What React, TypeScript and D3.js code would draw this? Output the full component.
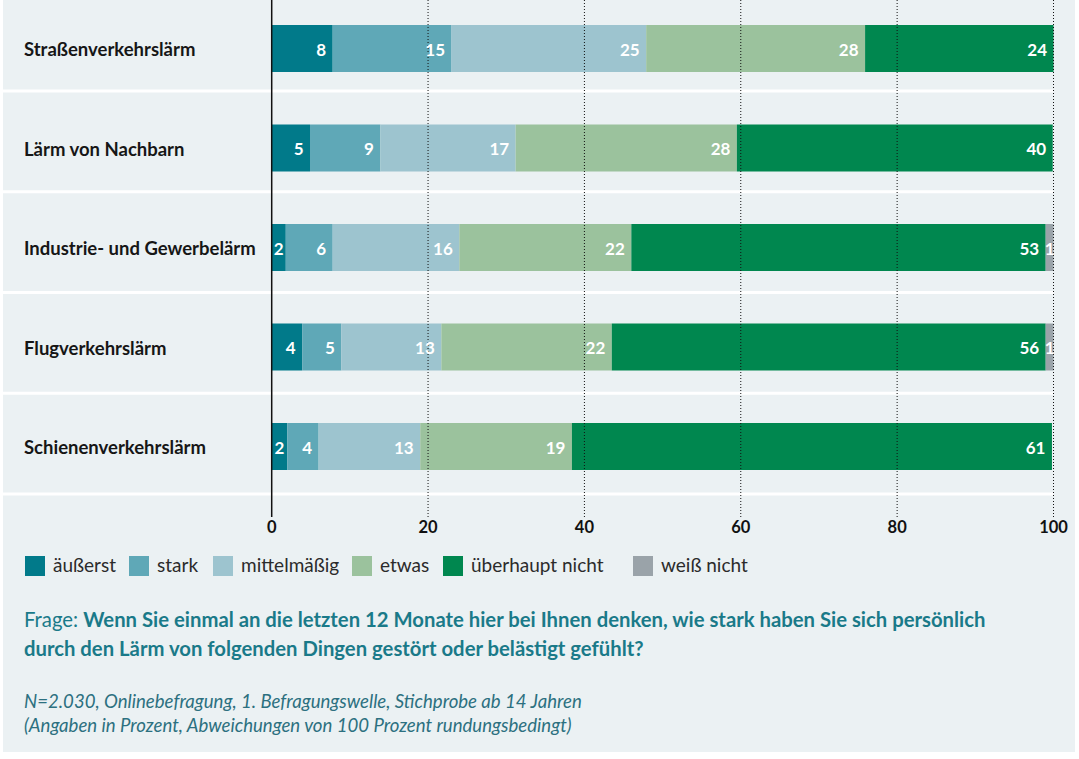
import React from "react";
import * as d3 from "d3";

// ---------- data ----------
const categories = [
  "Straßenverkehrslärm",
  "Lärm von Nachbarn",
  "Industrie- und Gewerbelärm",
  "Flugverkehrslärm",
  "Schienenverkehrslärm",
];
const seriesNames = ["äußerst", "stark", "mittelmäßig", "etwas", "überhaupt nicht", "weiß nicht"];
const aeusserst = [7.8, 4.9, 1.8, 3.9, 2.0];
const stark = [15.2, 9.0, 6.0, 5.0, 4.0];
const mittelmaessig = [24.9, 17.3, 16.2, 12.8, 13.0];
const etwas = [28.0, 28.3, 22.0, 21.8, 19.4];
const ueberhauptNicht = [24.1, 40.4, 53.0, 55.5, 61.4];
const weissNicht = [0, 0, 1.0, 1.0, 0];
const seriesValues = [aeusserst, stark, mittelmaessig, etwas, ueberhauptNicht, weissNicht];
const seriesColors = ["#017a8a", "#5fa8b7", "#9dc4cf", "#9bc29d", "#00874f", "#9aa3a9"];
const xTicks = [0, 20, 40, 60, 80, 100];

const questionLead = "Frage: ";
const questionLine1 = "Wenn Sie einmal an die letzten 12 Monate hier bei Ihnen denken, wie stark haben Sie sich persönlich";
const questionLine2 = "durch den Lärm von folgenden Dingen gestört oder belästigt gefühlt?";
const noteLine1 = "N=2.030, Onlinebefragung, 1. Befragungswelle, Stichprobe ab 14 Jahren";
const noteLine2 = "(Angaben in Prozent, Abweichungen von 100 Prozent rundungsbedingt)";

// ---------- layout ----------
const W = 1079;
const H = 759;
const FONT = "Lato, 'Open Sans', sans-serif";
const BG = "#ebf1f3";
const legendX = [25, 129, 213, 352, 443, 633];

let ctx: CanvasRenderingContext2D | null = null;
function textWidth(t: string, font: string) {
  if (typeof document === "undefined") return t.length * 9;
  if (!ctx) ctx = document.createElement("canvas").getContext("2d");
  if (!ctx) return t.length * 9;
  ctx.font = font;
  return ctx.measureText(t).width;
}

export default function App() {
  const x = d3.scaleLinear().domain([0, 100]).range([271.7, 1053.5]);
  const yBar = d3.scaleBand<string>().domain(categories).range([-9.5, 488]).paddingInner(0);
  const yRow = d3.scaleBand<string>().domain(categories).range([-9.75, 494]).paddingInner(0);
  const barOffset = 34.5;
  const barH = 47;

  const stacked = d3
    .stack<number>()
    .keys(seriesNames.map((_, i) => String(i)))
    .value((d, key) => seriesValues[+key][d])(categories.map((_, i) => i));

  const labelFont = `bold 17px Lato`;

  return (
    <svg
      width={W}
      height={H}
      style={{ position: "absolute", left: 0, top: 0, background: "#ffffff" }}
      fontFamily={FONT}
    >
      <rect x={3} y={0} width={1072} height={752} fill={BG} />
      {/* row separators */}
      {categories.map((c) => (
        <rect key={"sep" + c} x={3} y={(yRow(c) as number) + yRow.bandwidth() - 1.5} width={x(100) - 3} height={3} fill="#ffffff" />
      ))}
      {/* category labels */}
      {categories.map((c) => (
        <text
          key={"lab" + c}
          x={24}
          y={(yBar(c) as number) + barOffset + barH / 2 + 7.5}
          fontSize={18.5}
          fontWeight={700}
          fill="#161616"
        >
          {c}
        </text>
      ))}
      {/* bars */}
      {stacked.map((layer, si) => (
        <g key={"layer" + si}>
          {layer.map((seg, ci) => {
            const w = x(seg[1]) - x(seg[0]);
            if (w <= 0) return null;
            return (
              <rect
                key={ci}
                x={x(seg[0])}
                y={(yBar(categories[ci]) as number) + barOffset}
                width={w}
                height={barH}
                fill={seriesColors[si]}
              />
            );
          })}
        </g>
      ))}
      {/* grid lines */}
      {xTicks.slice(1).map((t) => (
        <line key={"g" + t} x1={x(t)} x2={x(t)} y1={0} y2={517} stroke="#111" strokeWidth={1} strokeDasharray="1,2" />
      ))}
      <line x1={x(0)} x2={x(0)} y1={0} y2={517} stroke="#111" strokeWidth={1.5} />
      {/* value labels */}
      {stacked.map((layer, si) => (
        <g key={"vl" + si}>
          {layer.map((seg, ci) => {
            const v = seriesValues[si][ci];
            if (v <= 0) return null;
            const label = String(Math.round(v));
            const segW = x(seg[1]) - x(seg[0]);
            const tw = textWidth(label, labelFont);
            const pad = Math.min(6.5, (segW - tw) / 2);
            return (
              <text
                key={ci}
                x={x(seg[1]) - pad}
                y={(yBar(categories[ci]) as number) + barOffset + barH / 2 + 7}
                textAnchor="end"
                fontSize={17}
                fontWeight={700}
                fill="#ffffff"
              >
                {label}
              </text>
            );
          })}
        </g>
      ))}
      {/* tick labels */}
      {xTicks.map((t) => (
        <text key={"t" + t} x={x(t)} y={533} textAnchor="middle" fontSize={16.5} fontWeight={700} fill="#111">
          {t}
        </text>
      ))}
      {/* legend */}
      {seriesNames.map((name, i) => (
        <g key={"leg" + name}>
          <rect x={legendX[i]} y={556} width={20} height={20} fill={seriesColors[i]} />
          <text x={legendX[i] + 28} y={572} fontSize={19} fill="#2b2b2b">
            {name}
          </text>
        </g>
      ))}
      {/* question */}
      <text x={24} y={627} fontSize={20.3} fill="#1a7a89">
        <tspan fontWeight={400}>{questionLead}</tspan>
        <tspan fontWeight={700}>{questionLine1}</tspan>
      </text>
      <text x={24} y={656} fontSize={20.3} fontWeight={700} fill="#1a7a89">
        {questionLine2}
      </text>
      {/* note */}
      <text x={24} y={708} fontSize={18.6} fontStyle="italic" fill="#2c7080">
        {noteLine1}
      </text>
      <text x={24} y={732} fontSize={18.6} fontStyle="italic" fill="#2c7080">
        {noteLine2}
      </text>
    </svg>
  );
}
